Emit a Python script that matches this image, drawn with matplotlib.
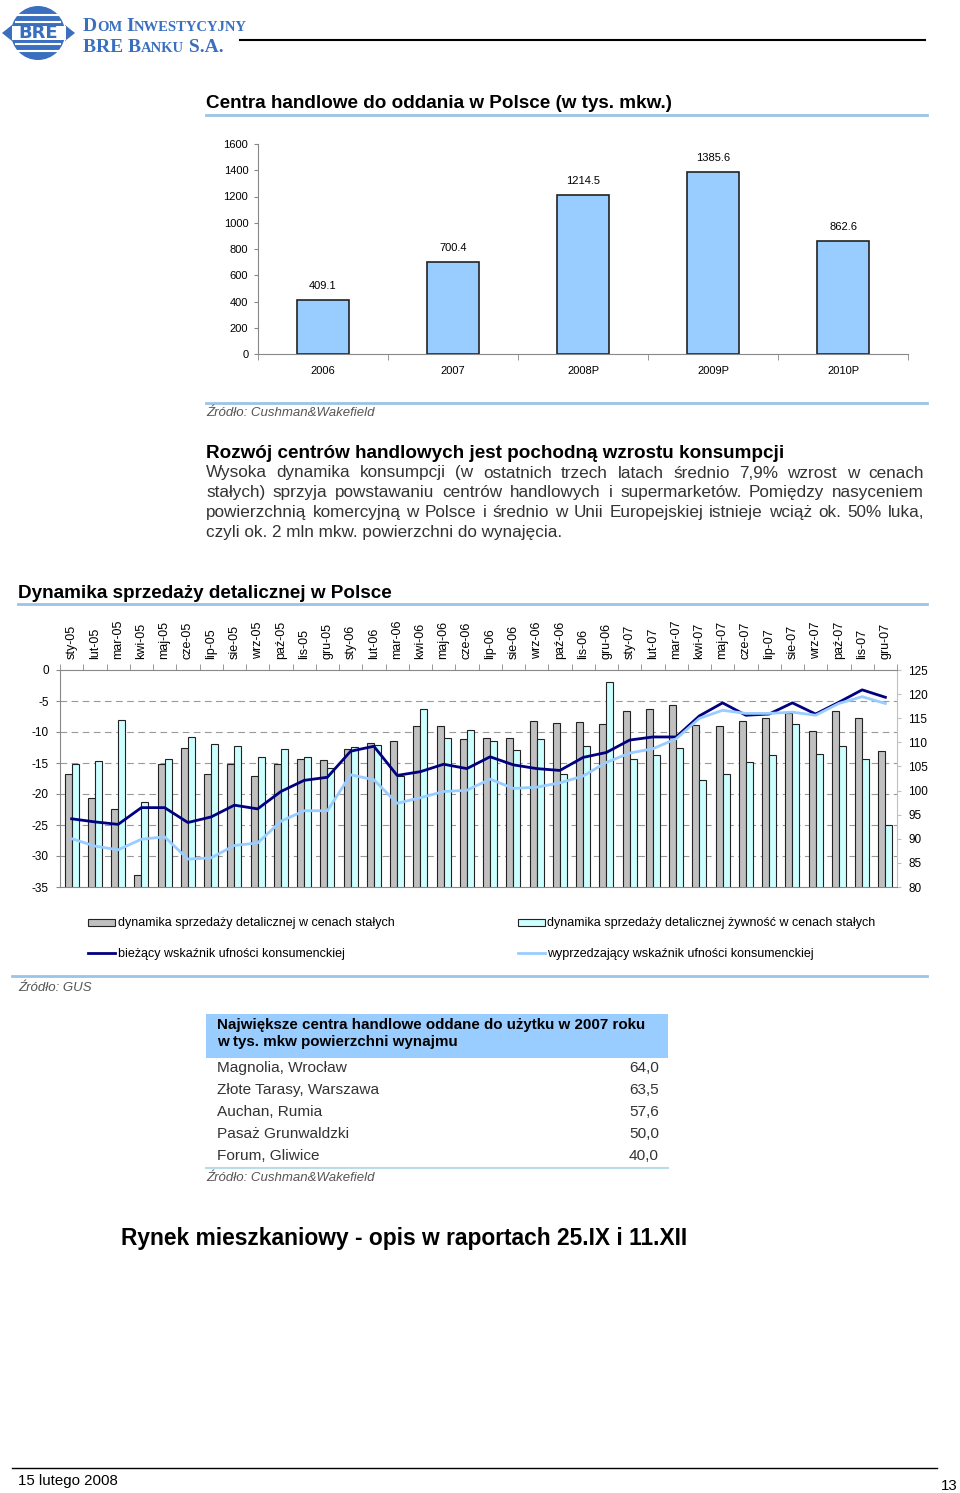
import numpy as np
import matplotlib
matplotlib.use("Agg")
import matplotlib.pyplot as plt
from matplotlib.patches import Rectangle, Circle, Polygon
from matplotlib.lines import Line2D
from matplotlib.ticker import FixedLocator

plt.rcParams['font.family'] = ['Liberation Sans', 'DejaVu Sans']
plt.rcParams['axes.unicode_minus'] = False

W, H = 960, 1493

# Centra handlowe do oddania (tys. mkw.)
lata = ['2006', '2007', '2008P', '2009P', '2010P']
powierzchnia = [409.1, 700.4, 1214.5, 1385.6, 862.6]

# Dynamika sprzedaży detalicznej i wskaźniki ufności konsumenckiej
miesiace = [f'{m}-{r}' for r in ['05', '06', '07']
            for m in ['sty', 'lut', 'mar', 'kwi', 'maj', 'cze',
                      'lip', 'sie', 'wrz', 'paź', 'lis', 'gru']]
sprzedaz = [103.4, 98.4, 96.2, 82.5, 105.5, 108.8, 103.4, 105.6, 103.0, 105.6, 106.5, 106.3,
            108.6, 109.9, 110.3, 113.4, 113.4, 110.6, 110.8, 111.0, 114.4, 114.1, 114.2, 113.8,
            116.4, 117.0, 117.7, 113.5, 113.3, 114.4, 115.0, 116.1, 112.3, 116.4, 115.1, 108.1]
sprzedaz_zywnosc = [105.6, 106.1, 114.6, 97.6, 106.5, 111.2, 109.7, 109.2, 107.0, 108.6, 107.0, 104.7,
                    109.0, 109.4, 103.0, 117.0, 110.8, 112.6, 110.3, 108.5, 110.7, 103.5, 109.2, 122.5,
                    106.5, 107.3, 108.9, 102.1, 103.4, 105.9, 107.3, 113.8, 107.6, 109.2, 106.5, 92.9]
wsk_biezacy = [-24.0, -24.5, -24.9, -22.2, -22.2, -24.6, -23.7, -21.8, -22.4, -19.6, -17.8, -17.3,
               -13.1, -12.3, -17.0, -16.4, -15.2, -15.9, -14.0, -15.3, -15.9, -16.2, -14.1, -13.3,
               -11.3, -10.8, -10.8, -7.4, -5.3, -7.3, -7.1, -5.3, -7.1, -5.2, -3.2, -4.4]
wsk_wyprzedzajacy = [-27.2, -28.4, -29.0, -27.3, -26.9, -30.5, -30.3, -28.3, -27.9, -24.4, -22.7, -22.7,
                     -16.9, -17.7, -21.5, -20.6, -19.6, -19.4, -17.6, -19.1, -18.9, -18.2, -17.1, -14.9,
                     -13.4, -12.7, -11.1, -7.8, -6.5, -7.0, -7.0, -6.8, -7.3, -5.4, -4.3, -5.4]

# Największe centra handlowe 2007
centra = ['Magnolia, Wrocław', 'Złote Tarasy, Warszawa', 'Auchan, Rumia',
          'Pasaż Grunwaldzki', 'Forum, Gliwice']
centra_pow = ['64,0', '63,5', '57,6', '50,0', '40,0']

fig = plt.figure(figsize=(W / 100, H / 100), dpi=100)
fig.patch.set_facecolor('white')


def fx(x):
    return x / W


def fy(y):
    return 1 - y / H


def txt(x, y, s, **kw):
    kw.setdefault('va', 'center')
    return fig.text(fx(x), fy(y), s, **kw)


def hline(x0, x1, y, color, lw):
    fig.add_artist(Line2D([fx(x0), fx(x1)], [fy(y), fy(y)], color=color, lw=lw))


def axes_px(l, t, r, b):
    return fig.add_axes([fx(l), fy(b), (r - l) / W, (b - t) / H])


renderer = fig.canvas.get_renderer()


def justify(y, line, x0, x1, **kw):
    # rozkłada słowa równo na całą szerokość
    words = line.split()
    ts = [txt(0, y, w, **kw) for w in words]
    widths = [t.get_window_extent(renderer).width for t in ts]
    gap = (x1 - x0 - sum(widths)) / (len(words) - 1)
    x = x0
    for t, w in zip(ts, widths):
        t.set_x(fx(x))
        x += w + gap


def runs(x, y, parts, **kw):
    # tekst złożony z kawałków o różnej wielkości (kapitaliki)
    for s, size in parts:
        t = fig.text(fx(x), fy(y), s, fontsize=size, va='baseline', **kw)
        x += t.get_window_extent(renderer).width


# --- nagłówek z logo ---
lax = axes_px(0, 0, 80, 66)
lax.set_xlim(0, 80)
lax.set_ylim(66, 0)
lax.axis('off')
blue = '#3a6fc0'
lax.add_patch(Circle((38, 33), 27, fc=blue, ec='none'))
for yy in [15, 22, 44, 51]:
    lax.plot([16, 60], [yy, yy], color='white', lw=1.5)
lax.add_patch(Polygon([[2, 33], [12, 25], [12, 41]], fc=blue))
lax.add_patch(Polygon([[75, 33], [65, 25], [65, 41]], fc=blue))
lax.add_patch(Rectangle((12, 26), 54, 14, fc='white', ec='none'))
lax.text(38, 33.5, 'BRE', color=blue, fontsize=13, fontweight='bold',
         ha='center', va='center', family='DejaVu Sans')

serif = dict(color=blue, family=['Liberation Serif', 'DejaVu Serif'], fontweight='bold')
runs(83, 31, [('D', 14), ('OM', 10.5), (' ', 10.5), ('I', 14), ('NWESTYCYJNY', 10.5)], **serif)
runs(83, 52, [('BRE ', 14), ('B', 14), ('ANKU', 10.5), (' S.A.', 14)], **serif)
hline(240, 925, 40, 'black', 1.5)

light = '#9dc3e6'
bold_title = dict(fontsize=13.6, fontweight='bold')

# --- wykres 1 ---
txt(206, 104, 'Centra handlowe do oddania w Polsce (w tys. mkw.)', **bold_title)
hline(206, 927, 115, light, 2)

ax1 = axes_px(258, 144, 908, 354)
xi = np.arange(len(lata))
ax1.bar(xi, powierzchnia, 0.4, color='#99CCFF', edgecolor='#222222', linewidth=1.2)
for i, v in enumerate(powierzchnia):
    ax1.annotate(f'{v}', (i, v), xytext=(0, 14), textcoords='offset pixels',
                 ha='center', va='center', fontsize=8)
ax1.set_xlim(-0.5, len(lata) - 0.5)
ax1.set_ylim(0, 1600)
ax1.set_yticks(range(0, 1601, 200))
ax1.set_xticks(xi)
ax1.set_xticklabels(lata)
ax1.xaxis.set_minor_locator(FixedLocator(np.arange(-0.5, len(lata), 1)))
ax1.tick_params(axis='x', which='major', length=0, pad=9, labelsize=8)
ax1.tick_params(axis='x', which='minor', length=4, color='#888888')
ax1.tick_params(axis='y', length=3, color='#888888', labelsize=8, pad=4)
for s in ['top', 'right']:
    ax1.spines[s].set_visible(False)
for s in ['left', 'bottom']:
    ax1.spines[s].set_color('#888888')

hline(206, 927, 403, light, 2)
src = dict(fontsize=9.5, style='italic', color='#555555')
txt(206, 413, 'Źródło: Cushman&Wakefield', **src)

# --- tekst ---
txt(206, 454, 'Rozwój centrów handlowych jest pochodną wzrostu konsumpcji', **bold_title)
para = dict(fontsize=12.3, color='#333333')
justify(473, 'Wysoka dynamika konsumpcji (w ostatnich trzech latach średnio 7,9% wzrost w cenach', 206, 924, **para)
justify(493, 'stałych) sprzyja powstawaniu centrów handlowych i supermarketów. Pomiędzy nasyceniem', 206, 924, **para)
justify(512, 'powierzchnią komercyjną w Polsce i średnio w Unii Europejskiej istnieje wciąż ok. 50% luka,', 206, 924, **para)
txt(206, 532, 'czyli ok. 2 mln mkw. powierzchni do wynajęcia.', **para)

# --- wykres 2 ---
txt(18, 594, 'Dynamika sprzedaży detalicznej w Polsce', **bold_title)
hline(18, 927, 604, light, 2)

ax = axes_px(60, 670, 897, 887)
xm = np.arange(len(miesiace))
for v in range(-30, 0, 5):
    ax.axhline(80 + (v + 35) * 45 / 35, color='#999999', ls=(0, (6, 4)), lw=0.8, zorder=0)
ax.bar(xm - 0.15, sprzedaz, 0.3, color='#C0C0C0', edgecolor='#222222', linewidth=0.8, zorder=2)
ax.bar(xm + 0.15, sprzedaz_zywnosc, 0.3, color='#CCFFFF', edgecolor='#222222', linewidth=0.8, zorder=2)
ax.set_xlim(-0.5, len(miesiace) - 0.5)
ax.set_ylim(80, 125)
ax.set_yticks(range(80, 126, 5))
ax.xaxis.tick_top()
ax.set_xticks(xm)
ax.set_xticklabels(miesiace, rotation=90)
ax.xaxis.set_minor_locator(FixedLocator(np.arange(-0.5, len(miesiace), 1)))
ax.tick_params(axis='x', which='major', length=0, pad=8, labelsize=9)
ax.tick_params(axis='x', which='minor', length=4, color='#888888')
for s in ['left', 'top', 'bottom']:
    ax.spines[s].set_color('#888888')
ax.spines['right'].set_color('#c0c0c0')

ax2 = ax.twinx()
ax2.plot(xm, wsk_biezacy, color='#000080', lw=2)
ax2.plot(xm, wsk_wyprzedzajacy, color='#99CCFF', lw=2)
ax2.set_ylim(-35, 0)
ax2.set_yticks(range(-35, 1, 5))
ax2.yaxis.tick_left()
ax2.tick_params(axis='y', length=3, color='#888888', labelsize=8.5, pad=5)
for s in ax2.spines.values():
    s.set_visible(False)
# twinx przestawia osie - skala słupków z prawej
ax.yaxis.tick_right()
ax.tick_params(axis='y', length=3, color='#c0c0c0', labelsize=8.5, pad=5)

# legenda
leg = dict(fontsize=9)
fig.add_artist(Rectangle((fx(88), fy(926)), 27 / W, 7 / H, fc='#C0C0C0', ec='#222222', lw=0.8))
txt(118, 923, 'dynamika sprzedaży detalicznej w cenach stałych', **leg)
fig.add_artist(Rectangle((fx(518), fy(926)), 27 / W, 7 / H, fc='#CCFFFF', ec='#222222', lw=0.8))
txt(547, 923, 'dynamika sprzedaży detalicznej żywność w cenach stałych', **leg)
fig.add_artist(Line2D([fx(88), fx(115)], [fy(953), fy(953)], color='#000080', lw=2))
txt(118, 954, 'bieżący wskaźnik ufności konsumenckiej', **leg)
fig.add_artist(Line2D([fx(518), fx(545)], [fy(953), fy(953)], color='#99CCFF', lw=2))
txt(547, 954, 'wyprzedzający wskaźnik ufności konsumenckiej', **leg)

hline(12, 927, 976, light, 2)
txt(18, 988, 'Źródło: GUS', **src)

# --- tabela ---
fig.add_artist(Rectangle((fx(206), fy(1058)), 462 / W, 44 / H, fc='#99CCFF', ec='none'))
txt(217, 1025, 'Największe centra handlowe oddane do użytku w 2007 roku', fontsize=10.9, fontweight='bold')
txt(217, 1042, 'w tys. mkw powierzchni wynajmu', fontsize=10.9, fontweight='bold')
for i, (n, v) in enumerate(zip(centra, centra_pow)):
    y = 1068 + i * 22
    txt(217, y, n, fontsize=11.1, color='#333333')
    txt(659, y, v, fontsize=11.1, color='#333333', ha='right')
hline(206, 668, 1168, '#b7dde8', 1.5)
txt(206, 1178, 'Źródło: Cushman&Wakefield', **src)

txt(121, 1239, 'Rynek mieszkaniowy - opis w raportach 25.IX i 11.XII', fontsize=16.4, fontweight='bold')

# --- stopka ---
hline(12, 937, 1468, 'black', 1)
txt(18, 1481, '15 lutego 2008', fontsize=10.8)
txt(958, 1486, '13', fontsize=10.8, ha='right')

fig.savefig('out.png', dpi=100)
